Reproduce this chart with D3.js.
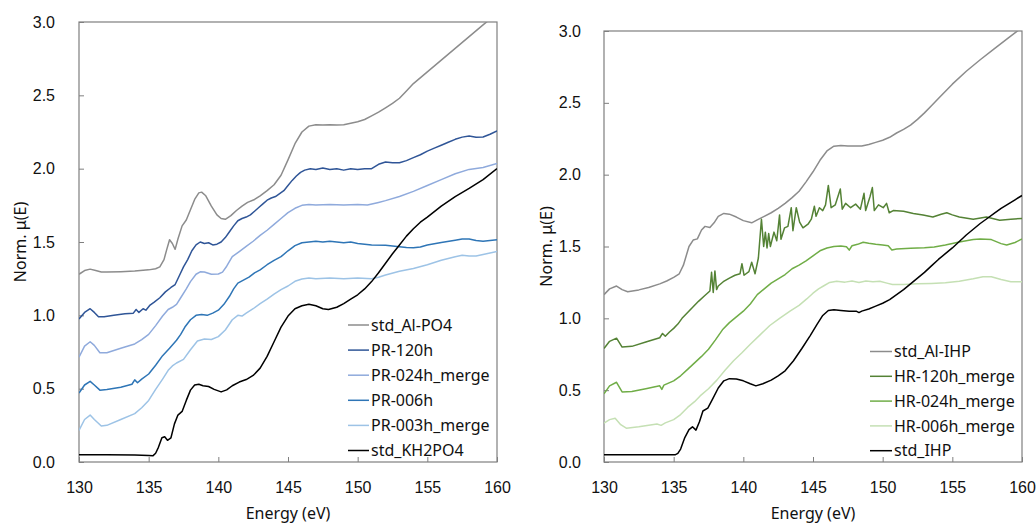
<!DOCTYPE html>
<html lang="en">
  <head>
    <meta charset="utf-8" />
    <title>Norm. μ(E) spectra</title>
    <script src="https://d3js.org/d3.v7.min.js"></script>
    <style>
      body {
        margin: 0;
        background: #fff;
      }
      svg {
        font-family: "Noto Sans", "Open Sans", sans-serif;
      }
      .axis text {
        font-size: 16px;
        fill: #111;
      }
      .axis .tick line {
        stroke: #7f7f7f;
      }
      .axis path.domain {
        display: none;
      }
      .series {
        fill: none;
        stroke-width: 1.5;
        stroke-linejoin: round;
      }
    </style>
  </head>

  <body>
    <svg id="chart"></svg>

    <script>
      // ---- data: [energy (eV), norm. mu(E)] ----
      const energyTicks = [130, 135, 140, 145, 150, 155, 160];
      const muTicks = [0, 0.5, 1.0, 1.5, 2.0, 2.5, 3.0];

      const stdAlPO4 = [
        [130, 1.28], [130.4, 1.305], [130.8, 1.315], [131.2, 1.305], [131.6, 1.295], [132, 1.295], [133, 1.298],
        [134, 1.302], [135, 1.31], [135.5, 1.318], [135.8, 1.33], [136.1, 1.38], [136.3, 1.45], [136.5, 1.515],
        [136.7, 1.49], [136.9, 1.45], [137.1, 1.52], [137.4, 1.61], [137.7, 1.65], [138.0, 1.72], [138.3, 1.79],
        [138.6, 1.835], [138.8, 1.84], [139.1, 1.815], [139.5, 1.745], [139.9, 1.685], [140.2, 1.66], [140.5, 1.655],
        [140.9, 1.68], [141.3, 1.715], [141.7, 1.745], [142.1, 1.77], [142.6, 1.79], [143, 1.815], [143.5, 1.85],
        [144, 1.89], [144.5, 1.955], [145, 2.06], [145.5, 2.17], [146, 2.25], [146.5, 2.29], [147, 2.3],
        [147.5, 2.298], [148, 2.3], [148.5, 2.297], [149, 2.3], [149.5, 2.31], [150, 2.32], [150.5, 2.335],
        [151, 2.36], [151.5, 2.385], [152, 2.415], [152.5, 2.445], [153, 2.48], [153.5, 2.53], [154, 2.58],
        [155, 2.66], [156, 2.74], [157, 2.82], [158, 2.9], [159, 2.98], [160, 3.06],
      ];
      const pr120h = [
        [130, 0.975], [130.4, 1.02], [130.8, 1.045], [131.1, 1.02], [131.4, 0.99], [131.8, 0.99], [132.5, 1.0],
        [133.3, 1.01], [133.9, 1.015], [134.1, 1.04], [134.3, 1.02], [134.6, 1.045], [134.8, 1.035], [135.1, 1.07],
        [135.4, 1.09], [135.8, 1.12], [136.2, 1.16], [136.6, 1.19], [136.9, 1.21], [137.2, 1.27], [137.5, 1.33],
        [137.8, 1.38], [138.1, 1.44], [138.4, 1.48], [138.7, 1.5], [139.0, 1.49], [139.3, 1.495], [139.6, 1.48],
        [139.9, 1.485], [140.2, 1.5], [140.5, 1.53], [140.8, 1.57], [141.1, 1.61], [141.4, 1.645], [141.7, 1.66],
        [142.0, 1.67], [142.3, 1.685], [142.6, 1.71], [142.9, 1.735], [143.2, 1.76], [143.5, 1.785], [143.8, 1.8],
        [144.1, 1.81], [144.4, 1.83], [144.7, 1.85], [145.0, 1.885], [145.3, 1.92], [145.6, 1.95], [145.9, 1.975],
        [146.2, 1.99], [146.6, 2.0], [147.0, 1.995], [147.5, 2.005], [148, 1.995], [148.5, 2.0], [149, 1.99],
        [149.5, 2.0], [150, 1.995], [150.5, 2.0], [151, 2.0], [151.5, 2.03], [152, 2.045], [152.5, 2.04],
        [153, 2.04], [153.5, 2.055], [154, 2.075], [154.5, 2.095], [155, 2.12], [155.5, 2.14], [156, 2.16],
        [156.5, 2.18], [157, 2.2], [157.5, 2.215], [158, 2.222], [158.5, 2.214], [159, 2.216], [159.5, 2.235],
        [160, 2.258],
      ];
      const pr024h = [
        [130, 0.715], [130.4, 0.79], [130.8, 0.82], [131.1, 0.795], [131.5, 0.745], [132, 0.745], [133, 0.775],
        [134, 0.805], [134.5, 0.835], [135, 0.87], [135.5, 0.93], [136, 0.995], [136.4, 1.04], [136.7, 1.055],
        [137, 1.075], [137.3, 1.12], [137.7, 1.18], [138, 1.23], [138.4, 1.28], [138.7, 1.297], [139, 1.295],
        [139.5, 1.28], [140, 1.282], [140.3, 1.295], [140.6, 1.335], [141, 1.4], [141.5, 1.435], [142, 1.47],
        [142.5, 1.505], [143, 1.545], [143.5, 1.58], [144, 1.62], [144.5, 1.66], [145, 1.7], [145.5, 1.73],
        [146, 1.75], [146.5, 1.756], [147, 1.752], [148, 1.755], [149, 1.752], [150, 1.756], [150.7, 1.752],
        [151.5, 1.77], [152, 1.782], [153, 1.81], [154, 1.845], [155, 1.885], [156, 1.925], [157, 1.965],
        [158, 1.995], [159, 2.008], [160, 2.035],
      ];
      const pr006h = [
        [130, 0.47], [130.4, 0.525], [130.8, 0.55], [131.1, 0.525], [131.5, 0.49], [132, 0.495], [133, 0.51],
        [133.8, 0.53], [134.0, 0.56], [134.2, 0.54], [134.5, 0.565], [135, 0.6], [135.5, 0.66], [136, 0.725],
        [136.5, 0.775], [137, 0.83], [137.3, 0.87], [137.6, 0.92], [138, 0.97], [138.4, 1.0], [138.8, 1.005],
        [139.2, 1.0], [139.6, 1.015], [140, 1.035], [140.4, 1.075], [140.8, 1.13], [141.1, 1.18], [141.4, 1.22],
        [141.8, 1.24], [142.2, 1.26], [142.6, 1.29], [143, 1.31], [143.5, 1.345], [144, 1.375], [144.5, 1.4],
        [145, 1.44], [145.5, 1.475], [146, 1.495], [146.5, 1.5], [147, 1.505], [147.5, 1.5], [148, 1.505],
        [148.5, 1.5], [149, 1.495], [149.5, 1.5], [150, 1.49], [150.5, 1.485], [151, 1.48], [152, 1.478],
        [153, 1.468], [153.5, 1.462], [154, 1.46], [154.5, 1.466], [155, 1.48], [156, 1.497], [157, 1.512],
        [157.5, 1.52], [158, 1.52], [158.5, 1.51], [159, 1.505], [160, 1.515],
      ];
      const pr003h = [
        [130, 0.215], [130.4, 0.29], [130.8, 0.32], [131.1, 0.29], [131.6, 0.245], [132, 0.25], [133, 0.29],
        [134, 0.33], [134.5, 0.37], [135, 0.42], [135.5, 0.495], [136, 0.565], [136.4, 0.625], [136.7, 0.655],
        [137, 0.675], [137.5, 0.7], [138, 0.765], [138.5, 0.825], [139, 0.838], [139.5, 0.835], [140, 0.855],
        [140.5, 0.9], [141, 0.97], [141.4, 1.0], [141.7, 0.995], [142, 1.015], [142.5, 1.045], [143, 1.08],
        [143.5, 1.11], [144, 1.145], [144.5, 1.175], [145, 1.2], [145.5, 1.232], [146, 1.248], [146.5, 1.255],
        [147, 1.25], [148, 1.255], [149, 1.25], [150, 1.255], [151, 1.25], [151.5, 1.26], [152, 1.275],
        [153, 1.3], [154, 1.32], [155, 1.345], [156, 1.375], [157, 1.4], [157.5, 1.41], [158, 1.405],
        [158.5, 1.405], [159, 1.415], [160, 1.435],
      ];
      const stdKH2PO4 = [
        [130, 0.05], [132, 0.05], [134, 0.048], [135, 0.045], [135.3, 0.042], [135.5, 0.06], [135.7, 0.1],
        [135.95, 0.165], [136.15, 0.172], [136.35, 0.148], [136.6, 0.165], [136.85, 0.26], [137.1, 0.32],
        [137.4, 0.345], [137.7, 0.42], [138.0, 0.49], [138.3, 0.525], [138.6, 0.53], [138.9, 0.52], [139.3, 0.515],
        [139.7, 0.495], [140.2, 0.478], [140.6, 0.492], [141, 0.52], [141.5, 0.545], [142, 0.562], [142.5, 0.59],
        [143, 0.64], [143.5, 0.72], [144, 0.82], [144.5, 0.92], [145, 0.995], [145.5, 1.045], [146, 1.065],
        [146.5, 1.075], [147, 1.065], [147.5, 1.045], [147.9, 1.04], [148.5, 1.055], [149, 1.08], [149.5, 1.11],
        [150, 1.14], [150.5, 1.18], [151, 1.23], [151.5, 1.29], [152, 1.355], [152.5, 1.42], [153, 1.48],
        [153.5, 1.54], [154, 1.59], [154.5, 1.635], [155, 1.67], [156, 1.745], [157, 1.81], [158, 1.865],
        [159, 1.925], [160, 2.0],
      ];

      const stdAlIHP = [
        [130, 1.165], [130.4, 1.205], [130.9, 1.225], [131.3, 1.2], [131.7, 1.185], [132.5, 1.198], [133.2, 1.215],
        [134, 1.24], [134.5, 1.26], [135, 1.285], [135.4, 1.31], [135.7, 1.37], [136.1, 1.5], [136.4, 1.545],
        [136.7, 1.553], [137, 1.615], [137.25, 1.64], [137.6, 1.632], [137.9, 1.665], [138.2, 1.71], [138.6, 1.73],
        [139, 1.725], [139.5, 1.705], [140, 1.68], [140.6, 1.665], [141, 1.685], [141.5, 1.71], [142, 1.735],
        [142.5, 1.765], [143, 1.8], [143.5, 1.84], [144, 1.885], [144.5, 1.95], [145, 2.02], [145.5, 2.1],
        [146, 2.165], [146.5, 2.198], [147, 2.203], [147.5, 2.2], [148, 2.2], [148.5, 2.2], [149, 2.21],
        [149.5, 2.225], [150, 2.24], [150.5, 2.26], [151, 2.29], [151.5, 2.315], [152, 2.345], [152.5, 2.385],
        [153, 2.43], [153.5, 2.48], [154, 2.53], [155, 2.63], [156, 2.72], [157, 2.8], [158, 2.875], [159, 2.95],
        [160, 3.025],
      ];
      const hr120h = [
        [130, 0.79], [130.4, 0.84], [130.9, 0.862], [131.3, 0.8], [132, 0.805], [133, 0.835], [134, 0.865],
        [134.2, 0.895], [134.4, 0.875], [134.7, 0.905], [135, 0.93], [135.3, 0.96], [135.6, 1.0], [136, 1.04],
        [136.4, 1.08], [136.8, 1.12], [137.2, 1.155], [137.6, 1.19], [137.72, 1.32], [137.84, 1.18],
        [137.96, 1.33], [138.08, 1.2], [138.2, 1.225], [138.56, 1.255], [139, 1.28], [139.4, 1.3], [139.76, 1.31],
        [139.9, 1.38], [140.05, 1.3], [140.4, 1.325], [140.6, 1.39], [140.84, 1.31], [141.08, 1.42], [141.3, 1.69],
        [141.46, 1.5], [141.58, 1.6], [141.7, 1.49], [141.82, 1.59], [141.94, 1.5], [142.2, 1.6], [142.4, 1.54],
        [142.6, 1.72], [142.7, 1.55], [142.96, 1.63], [143.2, 1.64], [143.44, 1.77], [143.56, 1.61],
        [143.8, 1.77], [144.04, 1.67], [144.28, 1.63], [144.64, 1.655], [144.88, 1.69], [145.1, 1.78],
        [145.22, 1.71], [145.46, 1.77], [145.7, 1.75], [145.9, 1.79], [146.1, 1.925], [146.3, 1.77],
        [146.6, 1.79], [146.96, 1.9], [147.1, 1.76], [147.34, 1.8], [147.7, 1.77], [148.06, 1.795], [148.4, 1.76],
        [148.66, 1.87], [148.78, 1.75], [149.1, 1.85], [149.26, 1.91], [149.4, 1.75], [149.7, 1.79],
        [150.04, 1.77], [150.28, 1.8], [150.47, 1.735], [150.76, 1.75], [151.5, 1.745], [152.2, 1.73],
        [152.9, 1.72], [153.6, 1.705], [154.2, 1.725], [154.6, 1.735], [155, 1.72], [155.5, 1.705],
        [156.5, 1.69], [157.45, 1.705], [158.4, 1.683], [159.2, 1.69], [160, 1.695],
      ];
      const hr024h = [
        [130, 0.475], [130.4, 0.53], [130.9, 0.555], [131.3, 0.488], [132, 0.49], [133, 0.51], [134, 0.53],
        [134.15, 0.505], [134.3, 0.535], [135, 0.565], [135.5, 0.6], [136, 0.645], [136.5, 0.69], [137, 0.735],
        [137.5, 0.785], [138, 0.85], [138.5, 0.92], [139, 0.97], [139.5, 1.01], [140, 1.05], [140.5, 1.1],
        [141, 1.165], [141.5, 1.205], [142, 1.245], [142.5, 1.275], [143, 1.305], [143.5, 1.345], [144, 1.37],
        [144.5, 1.4], [145, 1.435], [145.5, 1.47], [146, 1.49], [146.5, 1.5], [147, 1.503], [147.4, 1.498],
        [147.6, 1.475], [147.8, 1.505], [148.2, 1.515], [148.6, 1.53], [149, 1.522], [149.5, 1.515],
        [150, 1.51], [150.4, 1.505], [150.66, 1.475], [151, 1.482], [152, 1.488], [153, 1.492], [153.7, 1.497],
        [154.5, 1.51], [155.5, 1.532], [156.5, 1.548], [157, 1.552], [157.8, 1.548], [158.5, 1.52],
        [158.9, 1.51], [159.5, 1.528], [160, 1.552],
      ];
      const hr006h = [
        [130, 0.27], [130.4, 0.295], [130.8, 0.305], [131.2, 0.26], [131.6, 0.235], [132.5, 0.245],
        [133.8, 0.265], [134.1, 0.255], [134.4, 0.272], [135, 0.295], [135.5, 0.33], [136, 0.38], [136.5, 0.42],
        [136.9, 0.46], [137.5, 0.51], [138.1, 0.57], [138.7, 0.64], [139.3, 0.705], [139.9, 0.76], [140.5, 0.82],
        [141.2, 0.885], [141.9, 0.95], [142.6, 1.0], [143.35, 1.05], [144, 1.09], [144.55, 1.135], [145, 1.175],
        [145.4, 1.205], [145.75, 1.225], [146.2, 1.25], [146.7, 1.258], [147.3, 1.252], [147.8, 1.26],
        [148.3, 1.25], [148.8, 1.26], [149.3, 1.255], [149.8, 1.258], [150.3, 1.245], [150.7, 1.235],
        [151.5, 1.235], [152.5, 1.24], [153.5, 1.243], [154.5, 1.248], [155.5, 1.258], [156.5, 1.275],
        [157.2, 1.29], [157.8, 1.29], [158.5, 1.27], [159.2, 1.255], [160, 1.255],
      ];
      const stdIHP = [
        [130, 0.05], [132, 0.05], [134, 0.05], [135.1, 0.05], [135.3, 0.06], [135.5, 0.09], [135.8, 0.17],
        [136.1, 0.225], [136.35, 0.245], [136.6, 0.222], [136.85, 0.28], [137.1, 0.355], [137.45, 0.375],
        [137.8, 0.44], [138.2, 0.515], [138.6, 0.565], [139.0, 0.58], [139.5, 0.578], [140, 0.565], [140.5, 0.545],
        [140.9, 0.53], [141.4, 0.545], [142, 0.57], [142.5, 0.6], [143, 0.635], [143.6, 0.705], [144.2, 0.79],
        [144.8, 0.88], [145.3, 0.96], [145.7, 1.02], [146.1, 1.055], [146.5, 1.06], [147, 1.055], [147.6, 1.05],
        [148.1, 1.05], [148.3, 1.04], [148.5, 1.05], [149, 1.065], [149.5, 1.085], [150, 1.105], [150.5, 1.13],
        [151, 1.165], [151.5, 1.2], [152, 1.24], [152.5, 1.28], [153, 1.32], [153.5, 1.365], [154, 1.41],
        [154.5, 1.45], [155, 1.49], [155.5, 1.535], [156, 1.58], [156.5, 1.62], [157, 1.66], [157.5, 1.695],
        [158, 1.73], [158.5, 1.765], [159, 1.795], [159.5, 1.825], [160, 1.855],
      ];

      const leftSeries = [
        { name: "std_Al-PO4", color: "#8c8c8c", values: stdAlPO4 },
        { name: "PR-120h", color: "#2f5597", values: pr120h },
        { name: "PR-024h_merge", color: "#8faadc", values: pr024h },
        { name: "PR-006h", color: "#2e75b6", values: pr006h },
        { name: "PR-003h_merge", color: "#9dc3e6", values: pr003h },
        { name: "std_KH2PO4", color: "#000000", values: stdKH2PO4 },
      ];
      const rightSeries = [
        { name: "std_Al-IHP", color: "#8c8c8c", values: stdAlIHP },
        { name: "HR-120h_merge", color: "#548235", values: hr120h },
        { name: "HR-024h_merge", color: "#70ad47", values: hr024h },
        { name: "HR-006h_merge", color: "#c5e0b4", values: hr006h },
        { name: "std_IHP", color: "#000000", values: stdIHP },
      ];

      const svg = d3.select("#chart").attr("width", 1036).attr("height", 527);

      function drawPanel(id, box, series, legend) {
        const x = d3.scaleLinear().domain([130, 160]).range([box.left, box.right]);
        const y = d3.scaleLinear().domain([0, 3]).range([box.bottom, box.top]);

        const g = svg.append("g").attr("id", id);

        g.append("clipPath")
          .attr("id", id + "-clip")
          .append("rect")
          .attr("x", box.left)
          .attr("y", box.top)
          .attr("width", box.right - box.left)
          .attr("height", box.bottom - box.top);

        // frame
        g.append("rect")
          .attr("x", box.left)
          .attr("y", box.top)
          .attr("width", box.right - box.left)
          .attr("height", box.bottom - box.top)
          .attr("fill", "none")
          .attr("stroke", "#7f7f7f")
          .attr("stroke-width", 1.2);

        // axes, ticks pointing inside
        g.append("g")
          .attr("class", "axis")
          .attr("transform", `translate(0,${box.bottom})`)
          .call(d3.axisBottom(x).tickValues(energyTicks).tickFormat(d3.format("d")).tickSize(-5).tickPadding(20));

        g.append("g")
          .attr("class", "axis")
          .attr("transform", `translate(${box.left},0)`)
          .call(d3.axisLeft(y).tickValues(muTicks).tickFormat(d3.format(".1f")).tickSize(-5).tickPadding(box.ypad));

        // axis titles
        g.append("text")
          .attr("x", (box.left + box.right) / 2)
          .attr("y", 519)
          .attr("text-anchor", "middle")
          .attr("font-size", 16)
          .attr("fill", "#111")
          .text("Energy (eV)");

        g.append("text")
          .attr("transform", `translate(${box.ytitle},${(box.top + box.bottom) / 2}) rotate(-90)`)
          .attr("text-anchor", "middle")
          .attr("font-size", 16)
          .attr("fill", "#111")
          .text("Norm. μ(E)");

        const line = d3
          .line()
          .x((d) => x(d[0]))
          .y((d) => y(d[1]));

        g.append("g")
          .attr("clip-path", `url(#${id}-clip)`)
          .selectAll("path")
          .data(series)
          .join("path")
          .attr("class", "series")
          .attr("stroke", (d) => d.color)
          .attr("d", (d) => line(d.values));

        // legend
        const lg = g
          .append("g")
          .selectAll("g")
          .data(series)
          .join("g")
          .attr("transform", (d, i) => `translate(${legend.x},${legend.y + i * legend.step})`);

        lg.append("line")
          .attr("x1", 0)
          .attr("x2", legend.len)
          .attr("stroke", (d) => d.color)
          .attr("stroke-width", 1.5);

        lg.append("text")
          .attr("x", legend.len + 2)
          .attr("dy", "0.35em")
          .attr("font-size", 16)
          .attr("fill", "#111")
          .text((d) => d.name);
      }

      drawPanel(
        "left",
        { left: 79, right: 497, top: 22, bottom: 462, ypad: 24, ytitle: 26 },
        leftSeries,
        { x: 348, y: 325, step: 25.1, len: 21 }
      );
      drawPanel(
        "right",
        { left: 604, right: 1022, top: 31, bottom: 462, ypad: 23, ytitle: 552 },
        rightSeries,
        { x: 870, y: 351.5, step: 24.8, len: 22 }
      );
    </script>
  </body>
</html>
